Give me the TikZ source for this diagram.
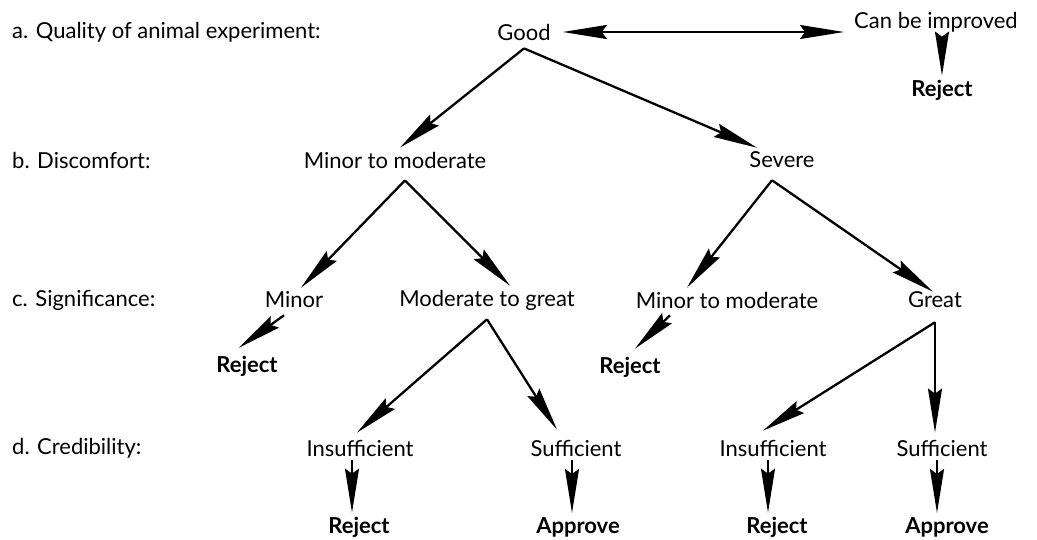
\documentclass[tikz,border=0pt]{standalone}
\usepackage{fontspec}
\setmainfont{Lato}
\usetikzlibrary{arrows.meta}

\begin{document}
\begin{tikzpicture}[x=1pt,y=-1pt,
  every node/.style={inner sep=4pt,font=\fontsize{22}{25}\selectfont},
  res/.style={font=\fontsize{22}{25}\selectfont\bfseries},
  lev/.style={anchor=west},
  tip/.tip={Stealth[length=44pt,width=14pt,inset=5pt]},
  arr/.style={line width=2.3pt,-tip}]
  \useasboundingbox (0,0) rectangle (1037,540);
  % levels
  \node[lev] (la) at (8,32) {a. Quality of animal experiment:};
  \node[lev] (lb) at (8,160) {b. Discomfort:};
  \node[lev] (lc) at (8,300) {c. Significance:};
  \node[lev] (ld) at (8,448) {d. Credibility:};
  % a
  \node (good) at (524,32) {Good};
  \node (imp) at (936,22) {Can be improved};
  \node[res] (rej0) at (942,90) {Reject};
  % b
  \node (mm1) at (395,160) {Minor to moderate};
  \node (sev) at (782,160) {Severe};
  % c
  \node (mi) at (294,300) {Minor};
  \node (mg) at (487,300) {Moderate to great};
  \node (mm2) at (727,300) {Minor to moderate};
  \node (gr) at (935,300) {Great};
  \node[res] (rej1) at (247,366) {Reject};
  \node[res] (rej2) at (630,367) {Reject};
  % d
  \node (ins1) at (360,448) {Insufficient};
  \node (suf1) at (576,448) {Sufficient};
  \node (ins2) at (773,448) {Insufficient};
  \node (suf2) at (942,448) {Sufficient};
  \node[res] (rej3) at (359,527) {Reject};
  \node[res] (app1) at (578,527) {Approve};
  \node[res] (rej4) at (777,527) {Reject};
  \node[res] (app2) at (947,527) {Approve};

  \draw[arr,tip-tip] ([xshift=8pt]good.east) -- ([xshift=-6pt]good.east -| imp.west);
  \draw[arr] ([xshift=6pt,yshift=-9pt]imp.south) -- ([xshift=6pt]imp.south |- rej0.north);
  \draw[arr] ([yshift=-4pt]good.south) -- ([xshift=5pt]mm1.north);
  \draw[arr] ([yshift=-4pt]good.south) -- ([xshift=-25pt]sev.north);
  \draw[arr] ([xshift=10pt,yshift=-8pt]mm1.south) -- ([xshift=7pt]mi.north);
  \draw[arr] ([xshift=10pt,yshift=-8pt]mm1.south) -- ([xshift=23pt]mg.north);
  \draw[arr] ([xshift=-10pt,yshift=-8pt]sev.south) -- ([xshift=-40pt]mm2.north);
  \draw[arr] ([xshift=-10pt,yshift=-8pt]sev.south) -- ([xshift=-2pt,yshift=-4pt]gr.north);
  \draw[arr] ([xshift=-10pt,yshift=-3pt]mi.south) -- ([xshift=-8pt,yshift=4pt]rej1.north);
  \draw[arr] ([xshift=-57pt,yshift=-3pt]mm2.south) -- ([xshift=5pt,yshift=4pt]rej2.north);
  \draw[arr] ([yshift=-5pt]mg.south) -- ([xshift=-3pt,yshift=3pt]ins1.north);
  \draw[arr] ([yshift=-5pt]mg.south) -- ([xshift=-19pt,yshift=6pt]suf1.north);
  \draw[arr] ([yshift=-10pt]gr.south) -- ([xshift=-10pt,yshift=5pt]ins2.north);
  \draw[arr] ([yshift=-10pt]gr.south) -- ([yshift=3pt]gr.south |- suf2.north);
  \draw[arr] ([xshift=-8pt]ins1.south) -- ([xshift=-8pt]ins1.south |- rej3.north);
  \draw[arr] ([xshift=-4pt]suf1.south) -- ([xshift=-4pt]suf1.south |- app1.north);
  \draw[arr] ([xshift=-5pt]ins2.south) -- ([xshift=-5pt]ins2.south |- rej4.north);
  \draw[arr] ([xshift=-5pt]suf2.south) -- ([xshift=-5pt]suf2.south |- app2.north);
\end{tikzpicture}
\end{document}
